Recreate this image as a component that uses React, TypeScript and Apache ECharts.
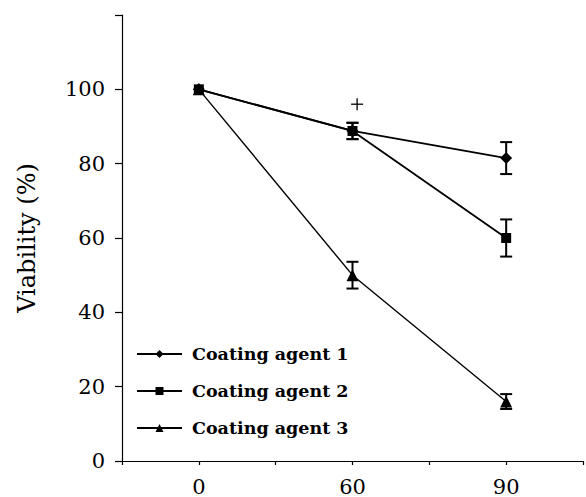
import React, { useEffect, useRef } from "react";
import * as echarts from "echarts";

const categories = ["0", "60", "90"];
const seriesNames = ["Coating agent 1", "Coating agent 2", "Coating agent 3"];
const agent1 = [100, 88.8, 81.5];
const agent1Err = [0, 2.2, 4.3];
const agent2 = [100, 88.8, 60];
const agent2Err = [0, 2.2, 5];
const agent3 = [100, 50, 16];
const agent3Err = [0, 3.6, 2];
const plusMark = [[1.03, 96]];
const yTicks = [0, 20, 40, 60, 80, 100];

const FONT = "DejaVu Serif";

export default function App() {
  const ref = useRef<HTMLDivElement>(null);
  useEffect(() => {
    if (!ref.current) return;
    const chart = echarts.init(ref.current, undefined, { renderer: "svg" });

    const toPts = (vals: number[]) => vals.map((v, i) => [i, v]);
    const errData = (vals: number[], errs: number[]) =>
      vals
        .map((v, i) => [i, v - errs[i], v + errs[i]])
        .filter((d, i) => errs[i] > 0);

    const errSeries = (vals: number[], errs: number[]) => ({
      type: "custom",
      silent: true,
      z: 3,
      data: errData(vals, errs),
      renderItem: (params: any, api: any) => {
        const x = api.value(0);
        const lo = api.coord([x, api.value(1)]);
        const hi = api.coord([x, api.value(2)]);
        const hw = 6;
        const style = { stroke: "#000", lineWidth: 2 };
        return {
          type: "group",
          children: [
            { type: "line", shape: { x1: lo[0], y1: lo[1], x2: hi[0], y2: hi[1] }, style },
            { type: "line", shape: { x1: hi[0] - hw, y1: hi[1], x2: hi[0] + hw, y2: hi[1] }, style },
            { type: "line", shape: { x1: lo[0] - hw, y1: lo[1], x2: lo[0] + hw, y2: lo[1] }, style },
          ],
        };
      },
    });

    const lineSeries = (name: string, vals: number[], symbol: string, size: number, lw: number, z: number) => ({
      name,
      type: "line",
      data: toPts(vals),
      symbol,
      symbolSize: size,
      showAllSymbol: true,
      z,
      lineStyle: { color: "#000", width: lw },
      itemStyle: { color: "#000" },
    });

    chart.setOption({
      animation: false,
      backgroundColor: "#fff",
      grid: { left: 122, right: -1, top: 15, bottom: 32, containLabel: false },
      legend: {
        data: seriesNames,
        orient: "vertical",
        left: 131,
        top: 339,
        itemWidth: 45,
        itemHeight: 10,
        itemGap: 17,
        textStyle: {
          fontFamily: FONT,
          fontWeight: "bold",
          fontSize: 17.5,
          color: "#000",
          lineHeight: 20,
          padding: [0, 0, 0, 5],
        },
      },
      xAxis: {
        type: "value",
        min: -0.5,
        max: 2.5,
        interval: 0.5,
        splitLine: { show: false },
        axisLine: { onZero: false, lineStyle: { color: "#000", width: 1.2 } },
        axisTick: { length: 4, lineStyle: { color: "#000", width: 1.2 } },
        axisLabel: {
          margin: 15,
          fontFamily: FONT,
          fontSize: 21,
          color: "#000",
          showMinLabel: true,
          showMaxLabel: true,
          formatter: (v: number) => {
            const i = Math.round(v);
            return Math.abs(v - i) < 1e-6 && i >= 0 && i < categories.length ? categories[i] : "";
          },
        },
      },
      yAxis: {
        type: "value",
        min: 0,
        max: 120,
        interval: 20,
        name: "Viability (%)",
        nameLocation: "middle",
        nameGap: 83,
        nameTextStyle: { fontFamily: FONT, fontSize: 24, color: "#000" },
        splitLine: { show: false },
        axisLine: { show: true, onZero: false, lineStyle: { color: "#000", width: 1.2 } },
        axisTick: { show: true, length: 7, lineStyle: { color: "#000", width: 1.2 } },
        axisLabel: {
          margin: 17,
          fontFamily: FONT,
          fontSize: 21,
          color: "#000",
          formatter: (v: number) => (yTicks.indexOf(v) >= 0 ? String(v) : ""),
        },
      },
      series: [
        lineSeries(seriesNames[0], agent1, "diamond", 12, 1.8, 4),
        lineSeries(seriesNames[1], agent2, "rect", 10, 1.8, 5),
        lineSeries(seriesNames[2], agent3, "triangle", 12, 1.4, 4),
        errSeries(agent1, agent1Err),
        errSeries(agent2, agent2Err),
        errSeries(agent3, agent3Err),
        {
          type: "custom",
          silent: true,
          data: plusMark,
          renderItem: (params: any, api: any) => {
            const p = api.coord([api.value(0), api.value(1)]);
            const h = 6;
            const style = { stroke: "#000", lineWidth: 1.3 };
            return {
              type: "group",
              children: [
                { type: "line", shape: { x1: p[0] - h, y1: p[1], x2: p[0] + h, y2: p[1] }, style },
                { type: "line", shape: { x1: p[0], y1: p[1] - h, x2: p[0], y2: p[1] + h }, style },
              ],
            };
          },
        },
      ],
    });
    return () => chart.dispose();
  }, []);
  return (
    <div
      ref={ref}
      style={{ position: "absolute", left: 0, top: 0, width: 586, height: 497 }}
    />
  );
}
